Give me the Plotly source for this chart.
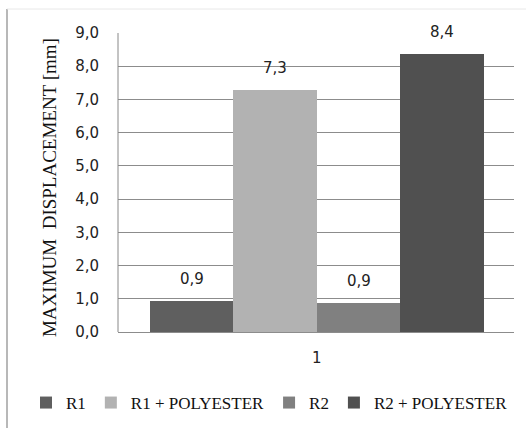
import plotly.graph_objects as go

series = ["R1", "R1 + POLYESTER", "R2", "R2 + POLYESTER"]
values = [0.93, 7.29, 0.87, 8.37]
colors = ["#5f5f5f", "#b2b2b2", "#808080", "#505050"]
category = ["1"]
positions = [0, 1, 2, 3]

W, H = 526, 428
L, R, T, B = 118, 12, 33, 96
pw, ph = W - L - R, H - T - B

def px_x(p):
    return (p - L) / pw

def px_y(p):
    return (H - B - p) / ph

fig = go.Figure()
for name, val, col, pos in zip(series, values, colors, positions):
    fig.add_trace(go.Bar(
        x=[pos], y=[val], name=name, width=1,
        marker=dict(color=col, line=dict(width=0)),
        showlegend=True,
    ))
    fig.add_annotation(
        x=pos, y=val, xref="x", yref="y", text=f"{val:.1f}".replace(".", ","),
        showarrow=False, yanchor="bottom", yshift=11,
        font=dict(family="DejaVu Sans", size=15, color="#222"),
    )

fig.add_annotation(
    x=px_x(49), y=px_y(188), xref="paper", yref="paper",
    text="MAXIMUM  DISPLACEMENT [mm]", textangle=-90, showarrow=False,
    xanchor="center", yanchor="middle",
    font=dict(family="Liberation Serif", size=19, color="#111"),
)

fig.add_shape(type="line", xref="paper", yref="paper",
              x0=px_x(7), x1=px_x(7), y0=px_y(9), y1=px_y(428),
              line=dict(color="#a0a0a0", width=1.5))
fig.add_shape(type="line", xref="paper", yref="paper",
              x0=px_x(7), x1=px_x(526), y0=px_y(9), y1=px_y(9),
              line=dict(color="#e8e8e8", width=1))
fig.add_shape(type="line", xref="paper", yref="paper",
              x0=0, x1=0, y0=0, y1=1,
              line=dict(color="#888888", width=1))

fig.update_layout(
    width=W, height=H,
    margin=dict(l=L, r=R, t=T, b=B, autoexpand=False),
    paper_bgcolor="white", plot_bgcolor="white",
    separators=",.",
    bargap=0, barmode="overlay",
    xaxis=dict(
        range=[-0.88, 3.86], tickvals=[1.5], ticktext=category,
        showgrid=False, zeroline=False, showline=False,
        ticks="", ticklabelstandoff=15,
        tickfont=dict(family="DejaVu Sans", size=15, color="#222"),
    ),
    yaxis=dict(
        range=[0, 9], dtick=1, tickformat=".1f",
        showgrid=True, gridcolor="#8c8c8c", gridwidth=1,
        zeroline=True, zerolinecolor="#8c8c8c", zerolinewidth=1,
        showline=False, ticks="", ticklabelstandoff=18,
        tickfont=dict(family="DejaVu Sans", size=15, color="#222"),
    ),
    legend=dict(
        orientation="h", x=px_x(26), xanchor="left",
        y=px_y(403), yanchor="middle",
        font=dict(family="Liberation Serif", size=17, color="#111"),
        itemwidth=30, traceorder="normal",
    ),
    showlegend=True,
)

fig.write_html("out.html")
